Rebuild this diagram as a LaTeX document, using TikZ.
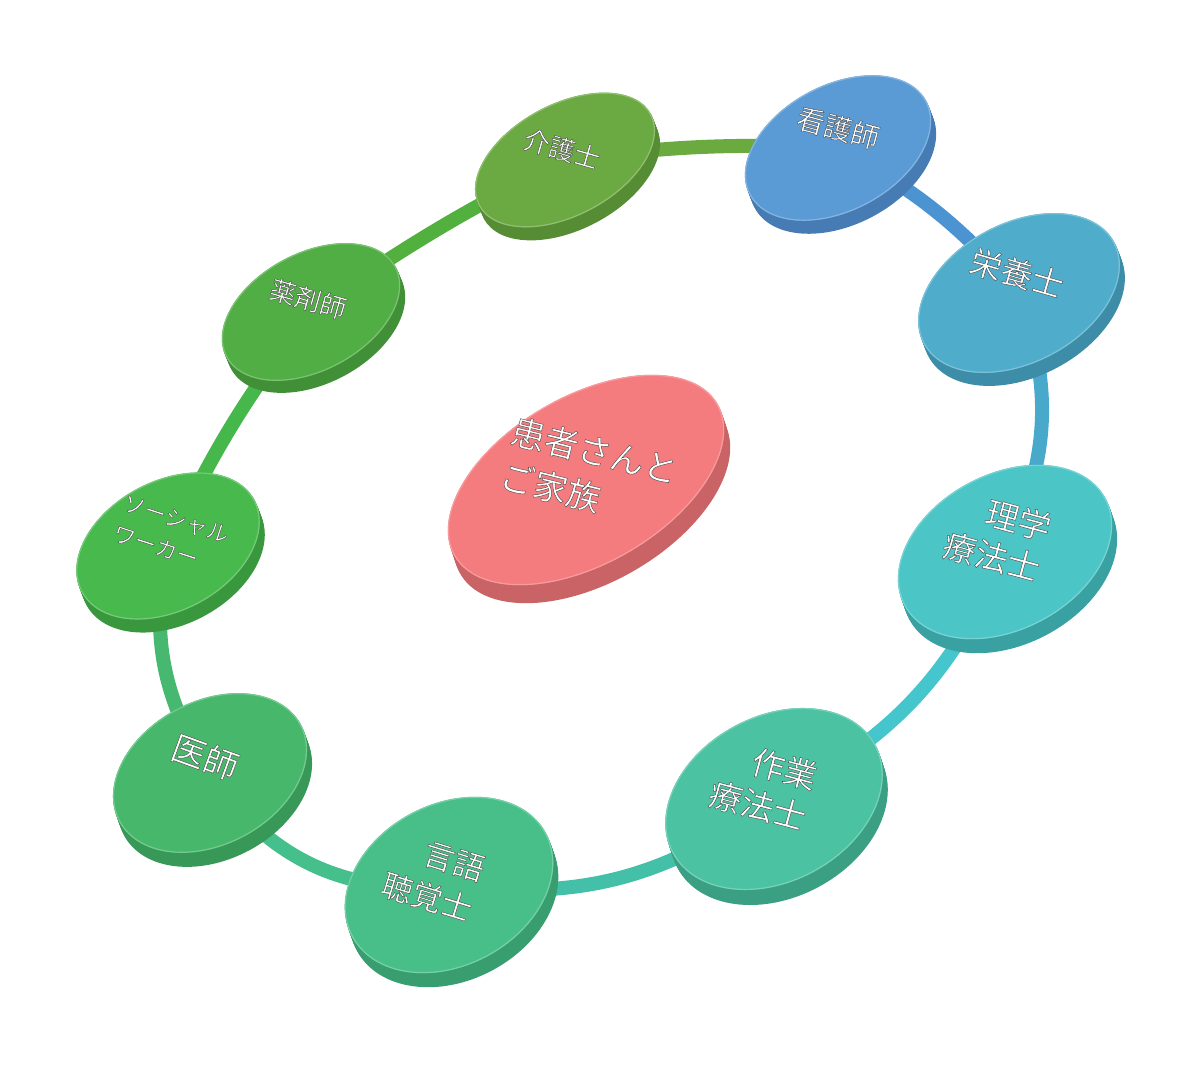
\documentclass[tikz,border=0pt]{standalone}
\usepackage{fontspec}
\newfontfamily\jp{Noto Sans CJK JP}
\definecolor{kaigoT}{HTML}{6BAA42}\definecolor{kaigoS}{HTML}{568C34}
\definecolor{kangoT}{HTML}{5B9BD5}\definecolor{kangoS}{HTML}{467CB3}
\definecolor{eiyoT}{HTML}{4FADCB}\definecolor{eiyoS}{HTML}{3D8CA8}
\definecolor{rigakuT}{HTML}{4CC5C6}\definecolor{rigakuS}{HTML}{3AA1A3}
\definecolor{sagyoT}{HTML}{4BC2A1}\definecolor{sagyoS}{HTML}{3A9F83}
\definecolor{gengoT}{HTML}{48BF89}\definecolor{gengoS}{HTML}{389D6F}
\definecolor{ishiT}{HTML}{47B86B}\definecolor{ishiS}{HTML}{389857}
\definecolor{socialT}{HTML}{48B94D}\definecolor{socialS}{HTML}{39983D}
\definecolor{yakuT}{HTML}{50AE44}\definecolor{yakuS}{HTML}{418F37}
\definecolor{patientT}{HTML}{F47B7E}\definecolor{patientS}{HTML}{C96366}
\definecolor{r1}{HTML}{6AAA3E}\definecolor{r2}{HTML}{4C93D1}
\definecolor{r3}{HTML}{48A9CB}\definecolor{r4}{HTML}{45C6CC}
\definecolor{r5}{HTML}{45C0A8}\definecolor{r6}{HTML}{45BF8B}
\definecolor{r7}{HTML}{46B870}\definecolor{r8}{HTML}{46B74A}
\definecolor{r9}{HTML}{52B13E}
\newcommand\mydisc[8]{%
  \foreach \t in {0.1,0.2,...,1.0}{%
    \fill[#6, shift={(#1)}, shift={({\t*#7},{\t*#8})}, rotate=#4] (0,0) ellipse [x radius=#2, y radius=#3];}
  \fill[#5, shift={(#1)}, rotate=#4] (0,0) ellipse [x radius=#2, y radius=#3];
  \draw[#5!75!white, line width=1.2pt, shift={(#1)}, rotate=#4] (0,0) ellipse [x radius=#2-0.6, y radius=#3-0.6];
}
\newcommand\embon{\special{pdf:code 2 Tr 0.45 w 0.3 G}}
\newcommand\emboff{\special{pdf:code 0 Tr}}
\newcommand\mylab[8]{%
  \node[lbl, align=#7, font={\jp\fontsize{#5}{#6}\selectfont}, rotate=#4] (#1-tx) at (#2,#3) {\embon#8\emboff};
}
\begin{document}
\begin{tikzpicture}[x=1pt,y=1pt,
  ring/.style={line width=14pt},
  lbl/.style={text=white, inner sep=0pt}]
\useasboundingbox (0,0) rectangle (1200,1070);
\coordinate (kaigo) at (565,910);
\coordinate (kango) at (838,922);
\coordinate (eiyo) at (1019,777);
\coordinate (rigaku) at (1005,518);
\coordinate (sagyo) at (774,271);
\coordinate (gengo) at (449,185);
\coordinate (ishi) at (210,297);
\coordinate (social) at (168,524);
\coordinate (yaku) at (311,758);
\coordinate (patient) at (586,590);
% ring
\draw[ring, r1] (kaigo) to[bend left=5] (kango);
\draw[ring, r2] (kango) to[bend left=10] (eiyo);
\draw[ring, r3] (eiyo) to[bend left=23] (rigaku);
\draw[ring, r4] (rigaku) to[bend left=20] (sagyo);
\draw[ring, r5] (sagyo) to[bend left=22] (gengo);
\draw[ring, r6] (gengo) to[bend left=31] (ishi);
\draw[ring, r7] (ishi) to[bend left=22] (social);
\draw[ring, r8] (social) to[bend left=6] (yaku);
\draw[ring, r9] (yaku) to[bend left=4] (kaigo);
% discs
\mydisc{kaigo}{97.5}{56}{28}{kaigoT}{kaigoS}{5}{-13}
\mydisc{kango}{100}{63}{28}{kangoT}{kangoS}{5}{-13}
\mydisc{eiyo}{108}{70}{28}{eiyoT}{eiyoS}{5}{-13}
\mydisc{rigaku}{114}{78}{28}{rigakuT}{rigakuS}{5}{-14}
\mydisc{sagyo}{115}{83}{28}{sagyoT}{sagyoS}{5}{-15}
\mydisc{gengo}{110}{81}{28}{gengoT}{gengoS}{5}{-14}
\mydisc{ishi}{103}{72}{28}{ishiT}{ishiS}{5}{-14}
\mydisc{social}{98}{65}{28}{socialT}{socialS}{5}{-13}
\mydisc{yaku}{96}{59}{28}{yakuT}{yakuS}{5}{-12}
\mydisc{patient}{152}{84}{30}{patientT}{patientS}{6}{-18}
% labels
\mylab{kango}{838}{942}{-15}{28}{34}{center}{看護師}
\mylab{eiyo}{1017}{797}{-16}{32}{38}{center}{栄養士}
\mylab{rigaku}{997}{534}{-15}{33}{42}{right}{理学\\療法士}
\mylab{sagyo}{763}{285}{-15}{33}{42}{right}{作業\\療法士}
\mylab{gengo}{433}{193}{-17}{31}{42}{right}{言語\\聴覚士}
\mylab{ishi}{205}{313}{-20}{34}{40}{center}{医師}
\mylab{social}{171}{536}{-18}{22}{32}{left}{ソーシャル\\ワーカー}
\mylab{yaku}{308}{771}{-16}{26}{30}{center}{薬剤師}
\mylab{kaigo}{562}{921}{-16}{26}{30}{center}{介護士}
\mylab{patient}{589}{597}{-14}{34}{46}{left}{患者さんと\\ご家族}
\end{tikzpicture}
\end{document}
